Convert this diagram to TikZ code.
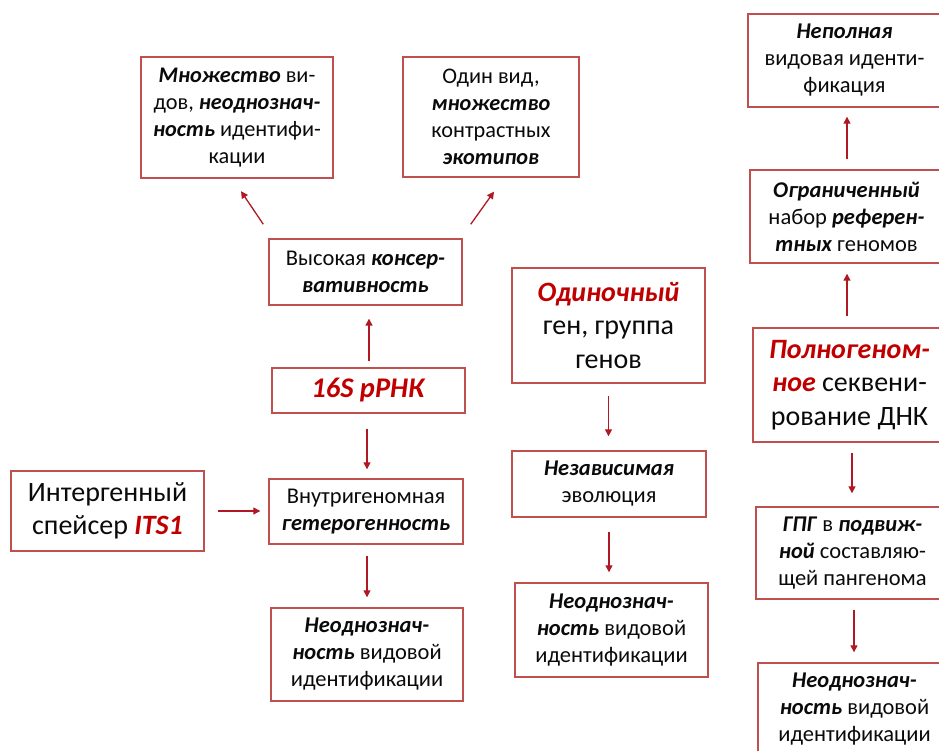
\documentclass[tikz,border=0pt]{standalone}
\usepackage{fontspec}
\setmainfont{Carlito}
\usetikzlibrary{arrows.meta,calc}
\definecolor{bordc}{RGB}{192,80,77}
\definecolor{redt}{RGB}{192,0,0}
\definecolor{arrc}{RGB}{176,24,36}
\definecolor{txt}{RGB}{10,10,10}
\newcommand\BI[1]{\textbf{\textit{#1}}}
\newcommand\RI[1]{\textcolor{redt}{\textbf{\textit{#1}}}}
\begin{document}
\begin{tikzpicture}[x=1pt,y=1pt,
 box/.style={draw=bordc, line width=1.4pt, align=center, inner sep=0pt, text=txt},
 sm/.style={font=\fontsize{22.5}{27}\selectfont},
 tp/.style={font=\fontsize{22.3}{27}\selectfont},
 bg/.style={font=\fontsize{28}{33.5}\selectfont},
 arr/.style={draw=arrc, line width=1.3pt, -{Triangle[length=7pt,width=7pt]}}]
\useasboundingbox (0,0) rectangle (939,751);
\clip (0,0) rectangle (939,751);
\node[box,tp,minimum width=192pt,minimum height=121pt] (A) at (237,633.5) {\BI{Множество} ви-\\дов, \BI{неоднознач-}\\\BI{ность} идентифи-\\кации};
\node[box,tp,minimum width=176pt,minimum height=120pt] (B) at (491,634) {Один вид,\\\BI{множество}\\контрастных\\\BI{экотипов}};
\node[box,sm,minimum width=193pt,minimum height=66pt] (C) at (365.5,479) {Высокая \BI{консер-}\\\BI{вативность}};
\node[box,font=\fontsize{28.5}{34}\selectfont,minimum width=193pt,minimum height=45pt] (P) at (368.5,360.5) {\RI{16S рРНК}};
\node[box,sm,minimum width=194pt,minimum height=65pt] (D) at (366,239.5) {Внутригеномная\\\BI{гетерогенность}};
\node[box,bg,minimum width=193pt,minimum height=80pt] (ITS) at (107.5,240) {Интергенный\\спейсер \RI{ITS1}};
\node[box,sm,minimum width=192pt,minimum height=93pt] (E) at (367,96.5) {\BI{Неоднознач-}\\\BI{ность} видовой\\идентификации};
\node[box,bg,minimum width=193pt,minimum height=115pt] (F) at (608.5,425.5) {\RI{Одиночный}\\ген, группа\\генов};
\node[box,sm,minimum width=194pt,minimum height=66pt] (G) at (609,267) {\BI{Независимая}\\эволюция};
\node[box,sm,minimum width=193pt,minimum height=94pt] (H) at (611.5,121) {\BI{Неоднознач-}\\\BI{ность} видовой\\идентификации};
\node[box,sm,minimum width=193pt,minimum height=93pt] (M) at (844.5,690.5) {\BI{Неполная}\\видовая иденти-\\фикация};
\node[box,sm,minimum width=193pt,minimum height=93pt] (J) at (846.5,534.5) {\BI{Ограниченный}\\набор \BI{референ-}\\\BI{тных} геномов};
\node[box,bg,minimum width=193pt,minimum height=114pt] (I) at (849.5,366) {\RI{Полногеном-}\\\RI{ное} секвени-\\рование ДНК};
\node[box,sm,minimum width=193pt,minimum height=92pt] (K) at (852.5,198) {\BI{ГПГ} в \BI{подвиж-}\\\BI{ной} составляю-\\щей пангенома};
\node[box,sm,minimum width=193pt,minimum height=93pt] (L) at (854.5,41.5) {\BI{Неоднознач-}\\\BI{ность} видовой\\идентификации};
\draw[arr] ($(C.north west)+(-5,14)$) -- ($(A.south)+(4,-12.5)$);
\draw[arr] ($(C.north east)+(8,14)$) -- ($(B.south)+(3,-14)$);
\draw[arr] ($(P.north)+(0.5,6)$) -- ($(P.north |- C.south)+(0.5,-13)$);
\draw[arr] ($(P.south)+(-1.5,-15)$) -- ($(P.south |- D.north)+(-1.5,9)$);
\draw[arr] ($(ITS.east)+(13,0)$) -- ($(ITS.east -| D.west)+(-8,0)$);
\draw[arr] ($(D.south)+(1,-11)$) -- ($(D.south |- E.north)+(1,10)$);
\draw[arr] ($(F.south)+(0,-12)$) -- ($(F.south |- G.north)+(0,14)$);
\draw[arr] ($(G.south)+(0,-14)$) -- ($(G.south |- H.north)+(0,10)$);
\draw[arr] ($(I.north)+(-2.5,11)$) -- ($(I.north |- J.south)+(-2.5,-10)$);
\draw[arr] ($(J.north)+(0.5,10)$) -- ($(J.north |- M.south)+(0.5,-9)$);
\draw[arr] ($(I.south)+(2.5,-10)$) -- ($(I.south |- K.north)+(2.5,13)$);
\draw[arr] ($(K.south)+(1.5,-10)$) -- ($(K.south |- L.north)+(1.5,10)$);
\end{tikzpicture}
\end{document}
